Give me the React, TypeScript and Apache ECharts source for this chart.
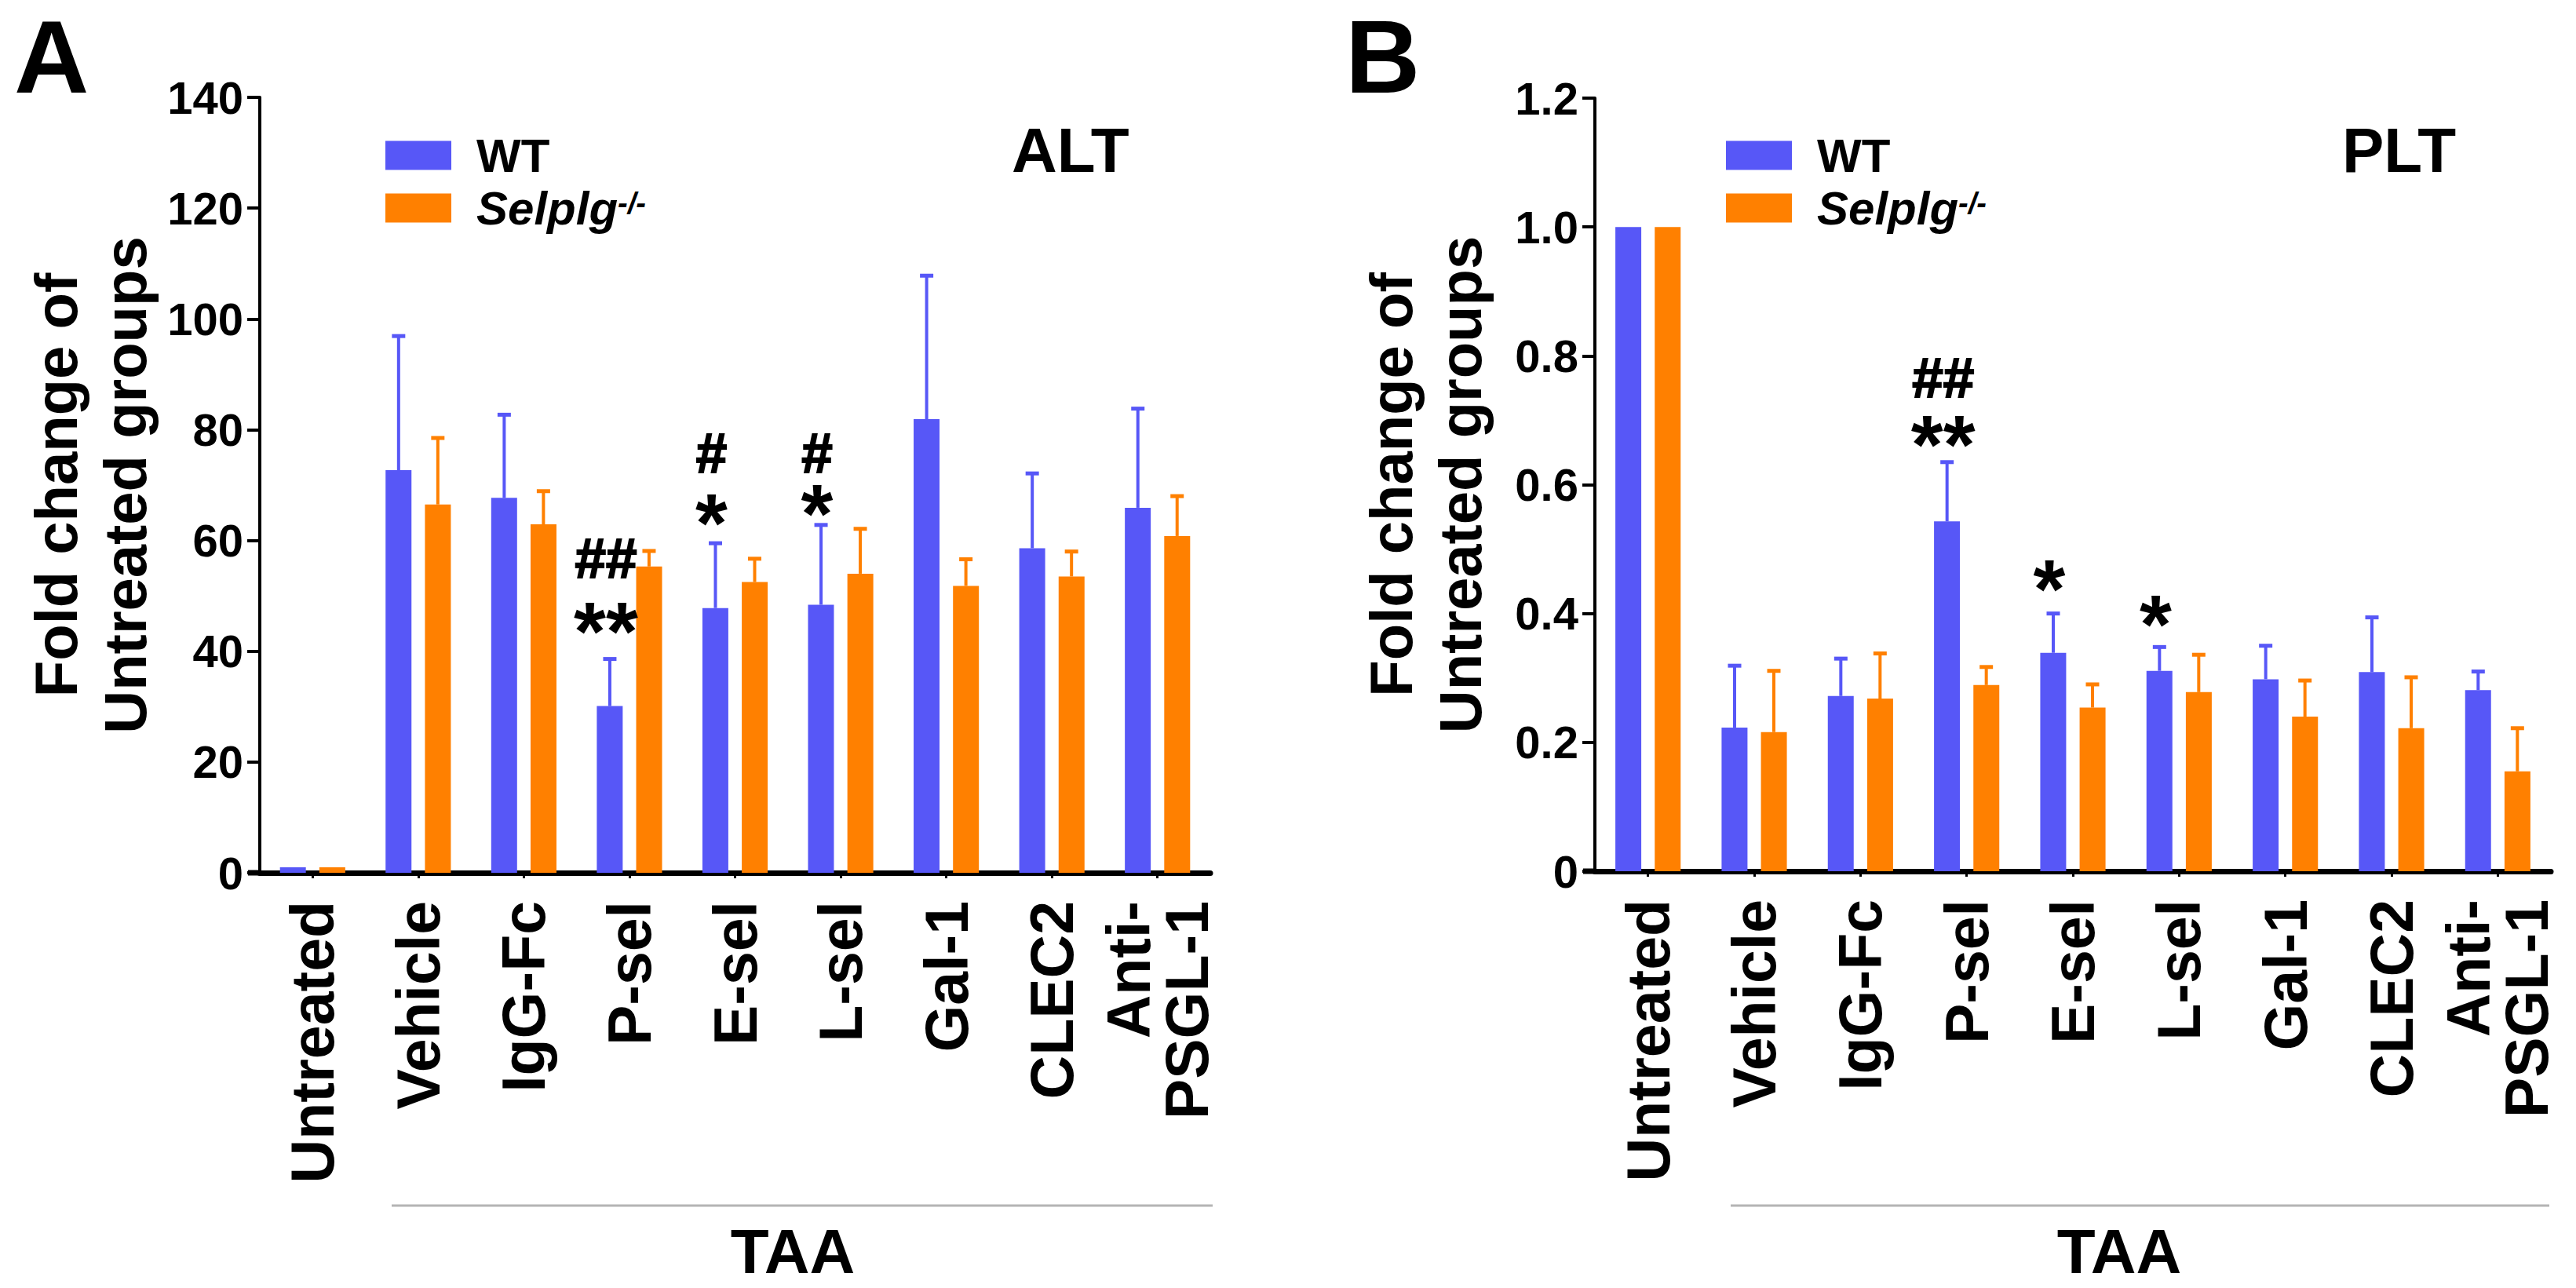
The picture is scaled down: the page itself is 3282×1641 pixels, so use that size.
import React, { useEffect, useRef } from 'react';
import * as echarts from 'echarts';

const categories = ['Untreated', 'Vehicle', 'IgG-Fc', 'P-sel', 'E-sel', 'L-sel', 'Gal-1', 'CLEC2', 'Anti-\nPSGL-1'];
const seriesNames = ['WT', 'Selplg'];

const altWT = [1, 72.7, 67.7, 30.1, 47.8, 48.4, 81.9, 58.6, 65.9];
const altWTErr = [0, 24.2, 15.0, 8.5, 11.7, 14.4, 25.9, 13.5, 17.9];
const altKO = [1, 66.5, 62.9, 55.3, 52.5, 54.0, 51.8, 53.5, 60.8];
const altKOErr = [0, 12.0, 6.0, 2.8, 4.2, 8.1, 4.8, 4.5, 7.2];

const pltWT = [1, 0.223, 0.272, 0.543, 0.339, 0.311, 0.298, 0.309, 0.281];
const pltWTErr = [0, 0.096, 0.058, 0.092, 0.061, 0.037, 0.052, 0.085, 0.029];
const pltKO = [1, 0.216, 0.268, 0.289, 0.254, 0.278, 0.240, 0.222, 0.155];
const pltKOErr = [0, 0.095, 0.070, 0.028, 0.036, 0.058, 0.056, 0.079, 0.067];

const altTicks = ['0', '20', '40', '60', '80', '100', '120', '140'];
const pltTicks = ['0', '0.2', '0.4', '0.6', '0.8', '1.0', '1.2'];

// significance marks: [category index, value of '#' mark (or null), value of '*' mark, '#' text, '*' text]
type Mark = [number, number | null, number, string, string];
const altMarks: Mark[] = [
  [3, 56.7, 47.0, '##', '**'],
  [4, 75.7, 66.5, '#', '*'],
  [5, 75.7, 68.3, '#', '*'],
];
const pltMarks: Mark[] = [
  [3, 0.766, 0.691, '##', '**'],
  [4, null, 0.468, '', '*'],
  [5, null, 0.412, '', '*'],
];

const BLUE = '#5757F7';
const ORANGE = '#FF8000';
const FONT = 'Liberation Sans, Arial, sans-serif';
const NARROW = '"Liberation Sans Narrow", "Arial Narrow", "Liberation Sans", sans-serif';
const STAR_SIZE = 105;
const HASH_SIZE = 71;

function errRender(offset: number, color: string) {
  return (params: any, api: any) => {
    const cat = api.value(0);
    const mean = api.value(1);
    const err = api.value(2);
    if (!err) return null;
    const base = api.coord([cat, mean]);
    const top = api.coord([cat, mean + err]);
    const x = base[0] + offset;
    return {
      type: 'group',
      children: [
        { type: 'line', shape: { x1: x, y1: base[1], x2: x, y2: top[1] }, style: { stroke: color, lineWidth: 4 } },
        { type: 'line', shape: { x1: x - 8.5, y1: top[1], x2: x + 8.5, y2: top[1] }, style: { stroke: color, lineWidth: 5 } },
      ],
    };
  };
}

function markRender(marks: Mark[]) {
  return (params: any, api: any) => {
    const m = marks[params.dataIndex];
    const ps = api.coord([m[0], m[2]]);
    const starLineY = ps[1] + 0.23 * STAR_SIZE;
    const x = ps[0] - 30;
    if (m[1] == null) {
      return {
        type: 'text', x, y: starLineY,
        style: {
          text: m[4], fill: '#000', font: `bold ${STAR_SIZE}px ${FONT}`,
          align: 'center', verticalAlign: 'middle', textAlign: 'center', textVerticalAlign: 'middle',
        },
      };
    }
    const ph = api.coord([m[0], m[1]]);
    const d = starLineY - ph[1];
    return {
      type: 'text', x, y: ph[1] + d / 2,
      style: {
        text: `{h|${m[3]}}\n{s|${m[4]}}`,
        fill: '#000',
        align: 'center', verticalAlign: 'middle', textAlign: 'center', textVerticalAlign: 'middle',
        rich: {
          h: { fontSize: HASH_SIZE, fontWeight: 'bold', fontFamily: FONT, fill: '#000', stroke: '#000', lineWidth: 2, lineHeight: d, align: 'center' },
          s: { fontSize: STAR_SIZE, fontWeight: 'bold', fontFamily: FONT, fill: '#000', lineHeight: d, align: 'center' },
        },
      },
    };
  };
}

function legendFor(left: number) {
  return {
    left,
    top: 163,
    orient: 'vertical',
    icon: 'rect',
    itemWidth: 84,
    itemHeight: 37,
    itemGap: 7,
    selectedMode: false,
    data: seriesNames,
    formatter: (name: string) => (name === 'WT' ? '{b|WT}' : '{i|Selplg}{s|-/-}'),
    textStyle: {
      rich: {
        b: { fontSize: 60, fontWeight: 'bold', fontFamily: FONT, color: '#000', lineHeight: 50, padding: [0, 0, 0, 27] },
        i: { fontSize: 60, fontWeight: 'bold', fontStyle: 'italic', fontFamily: FONT, color: '#000', lineHeight: 50, padding: [0, 0, 0, 27] },
        s: { fontSize: 38, fontWeight: 'bold', fontStyle: 'italic', fontFamily: FONT, color: '#000', lineHeight: 12, verticalAlign: 'top' },
      },
    },
  };
}

function yAxisFor(gridIndex: number, max: number, interval: number, ticks: string[]) {
  return {
    type: 'value',
    gridIndex,
    min: 0,
    max,
    interval,
    name: 'Fold change of\nUntreated groups',
    nameLocation: 'middle',
    nameRotate: 90,
    nameGap: 128,
    nameTextStyle: { fontSize: 76, fontWeight: 'bold', fontFamily: FONT, color: '#000', lineHeight: 88 },
    axisLine: { show: true, lineStyle: { color: '#000', width: 4 } },
    axisTick: { show: true, length: 16, lineStyle: { color: '#000', width: 4 } },
    splitLine: { show: false },
    axisLabel: {
      margin: 21,
      fontSize: 58,
      fontWeight: 'bold',
      fontFamily: FONT,
      color: '#000',
      formatter: (v: number) => ticks[Math.round(v / interval)] ?? '',
    },
  };
}

function xAxisFor(gridIndex: number) {
  return {
    type: 'category',
    gridIndex,
    data: categories,
    axisLine: { show: true, lineStyle: { color: '#000', width: 7 } },
    axisTick: { show: true, alignWithLabel: true, length: 7, lineStyle: { color: '#000', width: 3 } },
    axisLabel: {
      interval: 0,
      rotate: 90,
      margin: 36,
      fontSize: 77,
      fontWeight: 'bold',
      fontFamily: NARROW,
      color: '#000',
      lineHeight: 74,
    },
  };
}

function barsFor(idx: number, wt: number[], ko: number[], wtErr: number[], koErr: number[], marks: Mark[]) {
  return [
    { name: 'WT', type: 'bar', xAxisIndex: idx, yAxisIndex: idx, data: wt, barWidth: 33, barGap: '52%', itemStyle: { color: BLUE }, z: 2 },
    { name: 'Selplg', type: 'bar', xAxisIndex: idx, yAxisIndex: idx, data: ko, barWidth: 33, barGap: '52%', itemStyle: { color: ORANGE }, z: 2 },
    {
      type: 'custom', xAxisIndex: idx, yAxisIndex: idx, z: 3, silent: true,
      data: wt.map((v, i) => [i, v, wtErr[i]]),
      renderItem: errRender(-25, BLUE),
    },
    {
      type: 'custom', xAxisIndex: idx, yAxisIndex: idx, z: 3, silent: true,
      data: ko.map((v, i) => [i, v, koErr[i]]),
      renderItem: errRender(25, ORANGE),
    },
    {
      type: 'custom', xAxisIndex: idx, yAxisIndex: idx, z: 4, silent: true,
      data: marks.map((m) => [m[0], m[2]]),
      renderItem: markRender(marks),
    },
  ];
}

function textEl(text: string, x: number, y: number, size: number, align: string, vAlign: string, lineHeight: number) {
  return {
    type: 'text',
    x,
    y,
    style: {
      text,
      fill: '#000',
      font: `bold ${size}px ${FONT}`,
      lineHeight,
      align,
      verticalAlign: vAlign,
      textAlign: align,
      textVerticalAlign: vAlign,
    },
  };
}

export default function App() {
  const ref = useRef<HTMLDivElement>(null);
  useEffect(() => {
    if (!ref.current) return;
    const chart = echarts.init(ref.current, null, { renderer: 'svg' });
    chart.setOption({
      animation: false,
      backgroundColor: '#fff',
      grid: [
        { left: 331, top: 124, width: 1211, height: 988 },
        { left: 2032, top: 125, width: 1218, height: 985 },
      ],
      title: [
        { text: 'ALT', left: 1289, top: 151, padding: 0, textStyle: { fontSize: 80, fontWeight: 'bold', fontFamily: FONT, color: '#000' } },
        { text: 'PLT', left: 2984, top: 151, padding: 0, textStyle: { fontSize: 80, fontWeight: 'bold', fontFamily: FONT, color: '#000' } },
      ],
      legend: [legendFor(486), legendFor(2194)],
      xAxis: [xAxisFor(0), xAxisFor(1)],
      yAxis: [yAxisFor(0, 140, 20, altTicks), yAxisFor(1, 1.2, 0.2, pltTicks)],
      series: [
        ...barsFor(0, altWT, altKO, altWTErr, altKOErr, altMarks),
        ...barsFor(1, pltWT, pltKO, pltWTErr, pltKOErr, pltMarks),
      ],
      graphic: [
        textEl('A', 18, 6, 132, 'left', 'top', 132),
        textEl('B', 1714, 6, 132, 'left', 'top', 132),
        { type: 'rect', shape: { x: 316, y: 1108.5, width: 17, height: 7 }, style: { fill: '#000' } },
        { type: 'rect', shape: { x: 2017, y: 1106.5, width: 17, height: 7 }, style: { fill: '#000' } },
        { type: 'line', shape: { x1: 499, y1: 1536, x2: 1545, y2: 1536 }, style: { stroke: '#b4b4b4', lineWidth: 3 } },
        { type: 'line', shape: { x1: 2205, y1: 1536, x2: 3248, y2: 1536 }, style: { stroke: '#b4b4b4', lineWidth: 3 } },
        textEl('TAA', 1010, 1594, 80, 'center', 'middle', 80),
        textEl('TAA', 2700, 1594, 80, 'center', 'middle', 80),
      ],
    });
    return () => chart.dispose();
  }, []);
  return <div ref={ref} style={{ position: 'fixed', left: 0, top: 0, width: 3282, height: 1641, background: '#fff' }} />;
}
